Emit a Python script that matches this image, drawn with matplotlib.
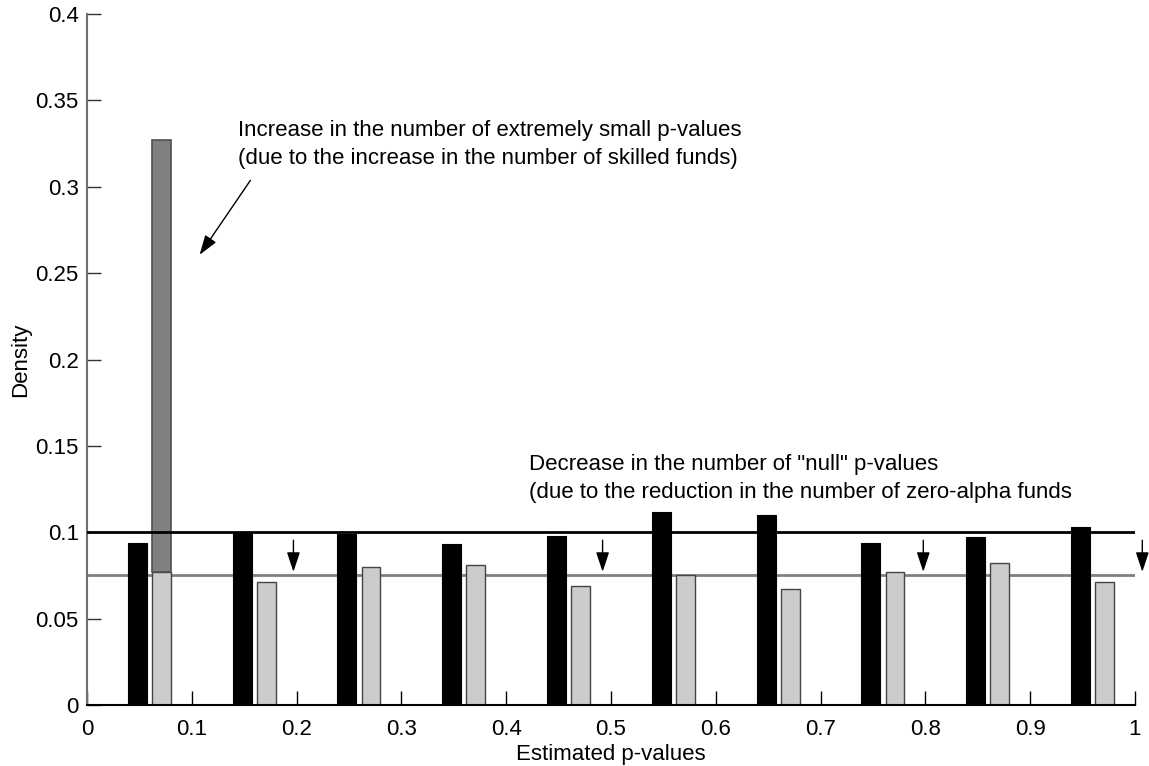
import numpy as np
import matplotlib.pyplot as plt

plt.rcParams['font.family'] = ['Liberation Sans', 'DejaVu Sans']

# bin left edges (0, 0.1, ..., 0.9)
bins = np.arange(0, 1.0, 0.1)
before = [0.094, 0.100, 0.099, 0.093, 0.098, 0.112, 0.110, 0.094, 0.097, 0.103]
after = [0.077, 0.0714, 0.080, 0.081, 0.069, 0.0755, 0.067, 0.077, 0.082, 0.071]
small_extra = 0.327 - 0.077   # extra mass in the first bin after
old_level = 0.1
new_level = 0.075
arrow_x = [0.197, 0.492, 0.798, 1.007]

fig = plt.figure(figsize=(11.49, 7.66), dpi=100)
ax = fig.add_axes([0.0757, 0.0796, 0.9121, 0.9021])

w = 0.018
ax.bar(bins + 0.048, before, width=w, color='black', edgecolor='black', linewidth=0.8, zorder=2)
ax.bar(bins + 0.071, after, width=w, color='#cccccc', edgecolor='#444444', linewidth=1.0, zorder=2)
ax.bar(bins[0] + 0.071, small_extra, width=w, bottom=after[0], color='#808080',
       edgecolor='#505050', linewidth=1.2, zorder=2)

ax.plot([0, 1], [old_level, old_level], color='black', lw=2, zorder=3)
ax.plot([0, 1], [new_level, new_level], color='#808080', lw=2, zorder=1)

head = '-|>,head_length=1.2,head_width=0.4'
for x in arrow_x:
    ax.annotate('', xy=(x, new_level + 0.0005), xytext=(x, old_level - 0.003),
                arrowprops=dict(arrowstyle=head, color='black', lw=1),
                annotation_clip=False)

ax.annotate('', xy=(0.106, 0.2593), xytext=(0.1574, 0.305),
            arrowprops=dict(arrowstyle=head, color='black', lw=1))

ax.text(0.144, 0.3245, 'Increase in the number of extremely small p-values\n'
        '(due to the increase in the number of skilled funds)',
        fontsize=16, va='center', ha='left', linespacing=1.4)
ax.text(0.422, 0.1312, 'Decrease in the number of "null" p-values\n'
        '(due to the reduction in the number of zero-alpha funds',
        fontsize=16, va='center', ha='left', linespacing=1.4)

ax.set_xlim(0, 1)
ax.set_ylim(0, 0.4)
ax.set_xticks(np.arange(0, 1.01, 0.1))
ax.set_xticklabels(['0', '0.1', '0.2', '0.3', '0.4', '0.5', '0.6', '0.7', '0.8', '0.9', '1'])
ax.set_yticks(np.arange(0, 0.401, 0.05))
ax.set_yticklabels(['0', '0.05', '0.1', '0.15', '0.2', '0.25', '0.3', '0.35', '0.4'])
ax.tick_params(direction='in', length=10, width=1, labelsize=16)
ax.tick_params(axis='x', pad=10)
ax.tick_params(axis='y', colors='#333333', labelcolor='black', pad=6)
ax.spines['top'].set_visible(False)
ax.spines['right'].set_visible(False)
ax.spines['left'].set_color('#707070')
ax.spines['left'].set_linewidth(1.5)
ax.spines['bottom'].set_linewidth(1.5)
ax.set_xlabel('Estimated p-values', fontsize=16, labelpad=3)
ax.set_ylabel('Density', fontsize=16, labelpad=3)

fig.savefig('out.png', dpi=100)
